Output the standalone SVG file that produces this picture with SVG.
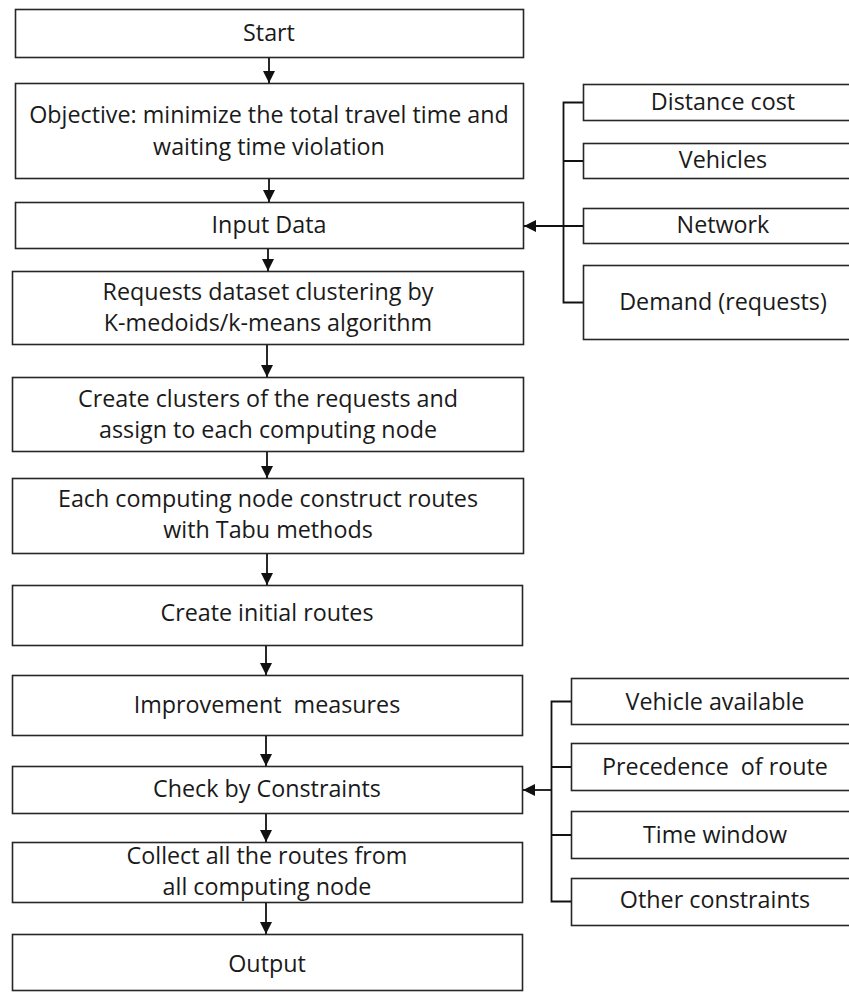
<svg xmlns="http://www.w3.org/2000/svg" width="849" height="992" viewBox="0 0 849 992">
  <style>
    .box { fill: #ffffff; stroke: #262626; stroke-width: 1.6; }
    .lbl { font-family: "Open Sans", "Noto Sans", "Liberation Sans", sans-serif; font-size: 23.3px; fill: #1a1a1a; text-anchor: middle; white-space: pre; }
    .wire { fill: none; stroke: #111111; stroke-width: 1.8; }
    .flow { fill: none; stroke: #111111; stroke-width: 1.8; marker-end: url(#head); }
  </style>
  <defs>
    <marker id="head" viewBox="0 0 10 10" refX="10" refY="5" markerWidth="12" markerHeight="12" markerUnits="userSpaceOnUse" orient="auto">
      <path d="M0,0 L10,5 L0,10 Z" fill="#111111"/>
    </marker>
  </defs>
  <rect width="849" height="992" fill="#ffffff"/>

  <!-- main column -->
  <g id="start">
    <rect class="box" x="15.5" y="9.5" width="508" height="48"/>
    <text class="lbl" x="269" y="41">Start</text>
  </g>
  <g id="objective">
    <rect class="box" x="15.5" y="83.5" width="508" height="95"/>
    <text class="lbl" x="269" y="123">Objective: minimize the total travel time and</text>
    <text class="lbl" x="269" y="155">waiting time violation</text>
  </g>
  <g id="input-data">
    <rect class="box" x="15.5" y="202.5" width="508" height="46"/>
    <text class="lbl" x="269" y="233">Input Data</text>
  </g>
  <g id="clustering">
    <rect class="box" x="12.5" y="271.5" width="511" height="73"/>
    <text class="lbl" x="268" y="300">Requests dataset clustering by</text>
    <text class="lbl" x="268" y="331">K-medoids/k-means algorithm</text>
  </g>
  <g id="create-clusters">
    <rect class="box" x="12.5" y="377.5" width="511" height="74"/>
    <text class="lbl" x="268" y="407">Create clusters of the requests and</text>
    <text class="lbl" x="268" y="438">assign to each computing node</text>
  </g>
  <g id="construct-routes">
    <rect class="box" x="12.5" y="478.5" width="511" height="75"/>
    <text class="lbl" x="268" y="507">Each computing node construct routes</text>
    <text class="lbl" x="268" y="538">with Tabu methods</text>
  </g>
  <g id="initial-routes">
    <rect class="box" x="12.5" y="585.5" width="510" height="60"/>
    <text class="lbl" x="267" y="621">Create initial routes</text>
  </g>
  <g id="improvement">
    <rect class="box" x="12.5" y="675.5" width="510" height="60"/>
    <text class="lbl" x="267" y="713">Improvement  measures</text>
  </g>
  <g id="check-constraints">
    <rect class="box" x="12.5" y="766.5" width="510" height="47"/>
    <text class="lbl" x="267" y="797">Check by Constraints</text>
  </g>
  <g id="collect-routes">
    <rect class="box" x="12.5" y="842.5" width="510" height="60"/>
    <text class="lbl" x="267" y="864">Collect all the routes from</text>
    <text class="lbl" x="267" y="895">all computing node</text>
  </g>
  <g id="output">
    <rect class="box" x="12.5" y="934.5" width="510" height="56"/>
    <text class="lbl" x="267" y="972">Output</text>
  </g>

  <!-- input data sources -->
  <g id="distance-cost">
    <rect class="box" x="583.5" y="84.5" width="280" height="36"/>
    <text class="lbl" x="723" y="110">Distance cost</text>
  </g>
  <g id="vehicles">
    <rect class="box" x="583.5" y="143.5" width="280" height="35"/>
    <text class="lbl" x="723" y="168">Vehicles</text>
  </g>
  <g id="network">
    <rect class="box" x="583.5" y="208.5" width="280" height="35"/>
    <text class="lbl" x="723" y="233">Network</text>
  </g>
  <g id="demand">
    <rect class="box" x="583.5" y="265.5" width="280" height="74"/>
    <text class="lbl" x="723" y="310">Demand (requests)</text>
  </g>

  <!-- constraint types -->
  <g id="vehicle-available">
    <rect class="box" x="571.5" y="678.5" width="290" height="46"/>
    <text class="lbl" x="715" y="710">Vehicle available</text>
  </g>
  <g id="precedence">
    <rect class="box" x="571.5" y="743.5" width="290" height="47"/>
    <text class="lbl" x="715" y="775">Precedence  of route</text>
  </g>
  <g id="time-window">
    <rect class="box" x="571.5" y="811.5" width="290" height="47"/>
    <text class="lbl" x="715" y="843">Time window</text>
  </g>
  <g id="other-constraints">
    <rect class="box" x="571.5" y="878.5" width="290" height="47"/>
    <text class="lbl" x="715" y="908">Other constraints</text>
  </g>

  <!-- connectors -->
  <g id="connectors">
    <line class="flow" x1="269" y1="58" x2="269" y2="83"/>
    <line class="flow" x1="269" y1="179" x2="269" y2="202"/>
    <line class="flow" x1="268" y1="249" x2="268" y2="271"/>
    <line class="flow" x1="267" y1="345" x2="267" y2="377"/>
    <line class="flow" x1="267" y1="452" x2="267" y2="478"/>
    <line class="flow" x1="267" y1="554" x2="267" y2="585"/>
    <line class="flow" x1="266" y1="646" x2="266" y2="675"/>
    <line class="flow" x1="266" y1="736" x2="266" y2="766"/>
    <line class="flow" x1="266" y1="814" x2="266" y2="842"/>
    <line class="flow" x1="266" y1="903" x2="266" y2="934"/>

    <!-- input bracket -->
    <path class="wire" d="M583,102.5 H563.5 V302.5 H583 M563.5,161 H583 M563.5,226 H583"/>
    <line class="flow" x1="564" y1="226" x2="524" y2="226"/>

    <!-- constraint bracket -->
    <path class="wire" d="M571,701.5 H551.5 V901.5 H571 M551.5,767 H571 M551.5,835 H571"/>
    <line class="flow" x1="552" y1="790" x2="523" y2="790"/>
  </g>
</svg>
